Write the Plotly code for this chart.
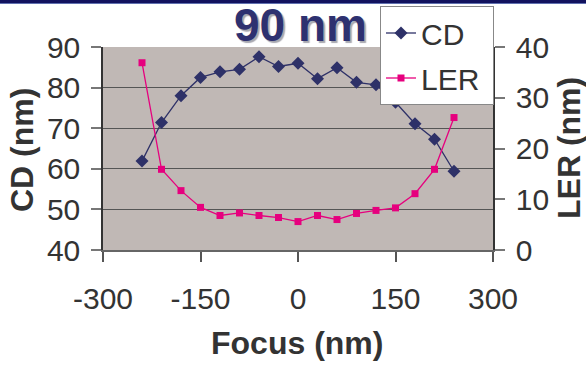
import plotly.graph_objects as go

focus = [-240, -210, -180, -150, -120, -90, -60, -30, 0, 30, 60, 90, 120, 150, 180, 210, 240]
cd = [61.9, 71.4, 78.0, 82.5, 83.9, 84.5, 87.6, 85.2, 86.0, 82.2, 84.9, 81.3, 80.7, 76.4, 71.1, 67.3, 59.4]
ler = [36.9, 15.9, 11.7, 8.4, 6.8, 7.3, 6.8, 6.4, 5.6, 6.8, 6.0, 7.2, 7.8, 8.3, 11.1, 15.9, 26.1]

x_ticks = [-300, -150, 0, 150, 300]
cd_ticks = [40, 50, 60, 70, 80, 90]
ler_ticks = [0, 10, 20, 30, 40]

NAVY = "#2E3168"
MAG = "#E6007E"
TXT = "#333333"

fig = go.Figure()
fig.add_trace(go.Scatter(
    x=focus, y=cd, name="CD", mode="lines+markers", legendgroup="a",
    line=dict(color=NAVY, width=1.3),
    marker=dict(symbol="diamond", size=10, color=NAVY),
))
fig.add_trace(go.Scatter(
    x=focus, y=ler, name="LER\u00a0", mode="lines+markers", yaxis="y2", legendgroup="b",
    line=dict(color=MAG, width=1.3),
    marker=dict(symbol="square", size=7, color=MAG),
))

L, R, T, B = 103, 93, 47, 115
W, H = 586, 365
pw, ph = W - L - R, H - T - B


def px(x):
    return (x - L) / pw


def py(y):
    return (H - B - y) / ph


fig.update_layout(
    width=W, height=H,
    margin=dict(l=L, r=R, t=T, b=B, pad=0, autoexpand=False),
    paper_bgcolor="white",
    plot_bgcolor="#C0B8B5",
    font=dict(family="Liberation Sans, Arial, sans-serif", color=TXT),
    xaxis=dict(
        range=[-300, 300], tickvals=x_ticks, ticktext=[str(v) for v in x_ticks],
        ticks="outside", ticklen=10, ticklabelstandoff=11,
        tickcolor="#555", tickwidth=1.5, showgrid=False, zeroline=False,
        showline=True, linecolor="#666", linewidth=1.5,
        tickfont=dict(size=30, color=TXT),
    ),
    yaxis=dict(
        range=[40, 90], tickvals=cd_ticks, ticks="outside", ticklen=10, ticklabelstandoff=5,
        tickcolor="#777", tickwidth=1.5, showgrid=True, gridcolor="#555", gridwidth=1,
        zeroline=False, showline=True, linecolor="#333", linewidth=1.5,
        tickfont=dict(size=30, color=TXT),
    ),
    yaxis2=dict(
        range=[0, 40], tickvals=ler_ticks, overlaying="y", side="right",
        ticks="outside", ticklen=10, ticklabelstandoff=5, tickcolor="#777", tickwidth=1.5,
        showgrid=False, zeroline=False, showline=True, linecolor="#333", linewidth=1.5,
        tickfont=dict(size=30, color=TXT),
    ),
    showlegend=True,
    legend=dict(
        xref="container", yref="container",
        x=380 / W, y=1 - 6 / H, xanchor="left", yanchor="top",
        bgcolor="white", bordercolor="#888", borderwidth=1,
        font=dict(size=30, color=TXT), itemwidth=30, tracegroupgap=3,
    ),
)

# axis titles
fig.add_annotation(xref="paper", yref="paper", x=px(297), y=py(343), text="<b>Focus (nm)</b>",
                   showarrow=False, xanchor="center", yanchor="middle",
                   font=dict(size=32, color=TXT))
fig.add_annotation(xref="paper", yref="paper", x=px(22), y=py(150), text="<b>CD (nm)</b>",
                   showarrow=False, xanchor="center", yanchor="middle", textangle=-90,
                   font=dict(size=32, color=TXT))
fig.add_annotation(xref="paper", yref="paper", x=px(569), y=py(148), text="<b>LER (nm)</b>",
                   showarrow=False, xanchor="center", yanchor="middle", textangle=-90,
                   font=dict(size=32, color=TXT))

# title with shadow
fig.add_annotation(xref="paper", yref="paper", x=px(300), y=py(25),
                   text="<b>90 nm</b>", showarrow=False, xanchor="center", yanchor="middle",
                   font=dict(size=46, color="#2E3170", shadow="2px 2px 1px #A8A8B0"))

# top banner
fig.add_shape(type="rect", xref="paper", yref="paper", layer="above",
              x0=-L / pw - 0.01, x1=(W - L) / pw + 0.01, y0=py(3), y1=py(-2),
              fillcolor="#12125E", line=dict(width=0))
fig.add_shape(type="rect", xref="paper", yref="paper", layer="above",
              x0=-L / pw - 0.01, x1=(W - L) / pw + 0.01, y0=py(4), y1=py(3),
              fillcolor="#6070B0", line=dict(width=0))

fig.write_html("out.html")
